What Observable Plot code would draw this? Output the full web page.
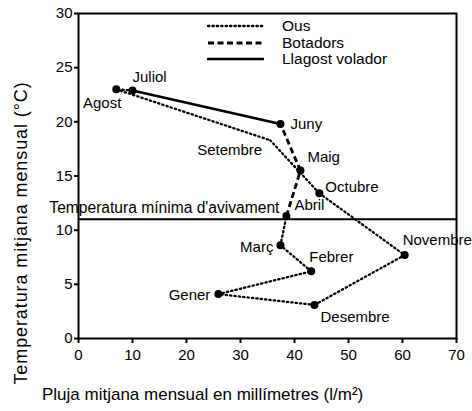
<!DOCTYPE html>
<html><head><meta charset="utf-8">
<script src="https://cdn.jsdelivr.net/npm/d3@7"></script>
<script src="https://cdn.jsdelivr.net/npm/@observablehq/plot@0.6"></script>
<style>
body{margin:0;background:#fff;}
#wrap{position:relative;width:472px;height:411px;font-family:"Liberation Sans",Arial,sans-serif;color:#000;}
#wrap svg{position:absolute;left:0;top:0;}
.lbl{position:absolute;white-space:nowrap;}
</style></head><body><div id="wrap"></div>
<script>
// ---- data ----
const months = ["Gener","Febrer","Març","Abril","Maig","Juny","Juliol","Agost","Setembre","Octubre","Novembre","Desembre"];
const rain = [25.9, 43.1, 37.4, 38.5, 41.1, 37.4, 10.0, 7.0, 35.5, 44.6, 60.4, 43.7];
const temp = [4.1, 6.2, 8.6, 11.3, 15.5, 19.8, 22.9, 23.0, 18.3, 13.4, 7.7, 3.1];
// stage of the segment going from each month to the next one
const stage = ["Ous","Ous","Ous","Botadors","Botadors","Llagost volador","Ous","Ous","Ous","Ous","Ous","Ous"];
const hasDot = [true,true,true,true,true,true,true,true,false,true,true,true];
const stages = ["Ous","Botadors","Llagost volador"];
const threshold = [11];
const thresholdLabel = "Temperatura mínima d'avivament";
const xTicks = [0,10,20,30,40,50,60,70];
const yTicks = [0,5,10,15,20,25,30];
const xLabel = "Pluja mitjana mensual en millímetres (l/m²)";
const yLabel = "Temperatura mitjana mensual (°C)";

// ---- styles ----
const dashOf = {"Ous":"1.4,3","Botadors":"6,3.5","Llagost volador":null};
const widthOf = {"Ous":2.3,"Botadors":2.8,"Llagost volador":2.6};
const capOf = {"Ous":"round","Botadors":"butt","Llagost volador":"round"};
const labelPos = {
  "Gener":[-8,1,"end"], "Febrer":[-2,-14,"start"], "Març":[-7,2,"end"],
  "Abril":[8,-11,"start"], "Maig":[7,-13,"start"], "Juny":[10,0,"start"],
  "Juliol":[0,-13,"start"], "Agost":[5,14,"end"], "Setembre":[-8,10,"end"],
  "Octubre":[6,-6,"start"], "Novembre":[-2,-15,"start"], "Desembre":[6,12,"start"]
};

const data = months.map((m,i)=>({month:m, rain:rain[i], temp:temp[i], stage:stage[i], dot:hasDot[i]}));
const segs = data.map((d,i)=>({x1:d.rain, y1:d.temp, x2:rain[(i+1)%12], y2:temp[(i+1)%12], stage:d.stage}));

const chart = Plot.plot({
  width:472, height:411,
  marginLeft:78, marginRight:16, marginTop:13, marginBottom:73,
  x:{domain:[0,70]}, y:{domain:[0,30]},
  style:{fontFamily:"Liberation Sans, Arial, sans-serif", fontSize:"15px", color:"#000", background:"#fff"},
  marks:[
    Plot.frame({stroke:"#000", strokeWidth:2}),
    Plot.ruleY(threshold, {stroke:"#000", strokeWidth:2}),
    Plot.text(threshold, {y:d=>d, x:()=>rain[3], text:()=>thresholdLabel, textAnchor:"end", dx:-7, dy:-11, fontSize:15.6, clip:false}),
    ...stages.map(s=>Plot.link(segs.filter(d=>d.stage===s), {
      x1:"x1", y1:"y1", x2:"x2", y2:"y2", stroke:"#000",
      strokeWidth:widthOf[s], strokeDasharray:dashOf[s], strokeLinecap:capOf[s]
    })),
    Plot.dot(data.filter(d=>d.dot), {x:"rain", y:"temp", r:4, fill:"#000", stroke:"none"}),
    ...data.map(d=>Plot.text([d], {x:"rain", y:"temp", text:"month",
      dx:labelPos[d.month][0], dy:labelPos[d.month][1], textAnchor:labelPos[d.month][2], fontSize:15})),
    Plot.axisX({ticks:xTicks, tickSize:5, tickPadding:6, strokeWidth:2, label:null, fontSize:15}),
    Plot.axisY({ticks:yTicks, tickSize:4, tickPadding:2, strokeWidth:2, label:null, fontSize:15})
  ]
});
const wrap = document.getElementById("wrap");
wrap.appendChild(chart);

// axis titles
const xl = document.createElement("div");
xl.className="lbl"; xl.textContent=xLabel;
xl.style.cssText += "left:42px;top:385px;font-size:17px;line-height:20px;";
wrap.appendChild(xl);
const yl = document.createElement("div");
yl.className="lbl"; yl.textContent=yLabel;
yl.style.cssText += "left:21px;top:233px;font-size:18px;line-height:20px;letter-spacing:0.9px;transform:translate(-50%,-50%) rotate(-90deg);";
wrap.appendChild(yl);

// legend
stages.forEach((s,i)=>{
  const row = document.createElement("div");
  row.className="lbl";
  row.style.cssText += `left:207px;top:${17+i*16.5}px;font-size:15.5px;line-height:18px;display:flex;align-items:center;`;
  const sw = `<svg width="57" height="8" style="position:static;margin-right:18px"><line x1="1" y1="4" x2="56" y2="4" stroke="#000" stroke-width="${widthOf[s]}" ${dashOf[s]?`stroke-dasharray="${dashOf[s]}"`:""} stroke-linecap="${capOf[s]}"/></svg>`;
  row.innerHTML = sw + `<span>${s}</span>`;
  wrap.appendChild(row);
});
</script></body></html>
